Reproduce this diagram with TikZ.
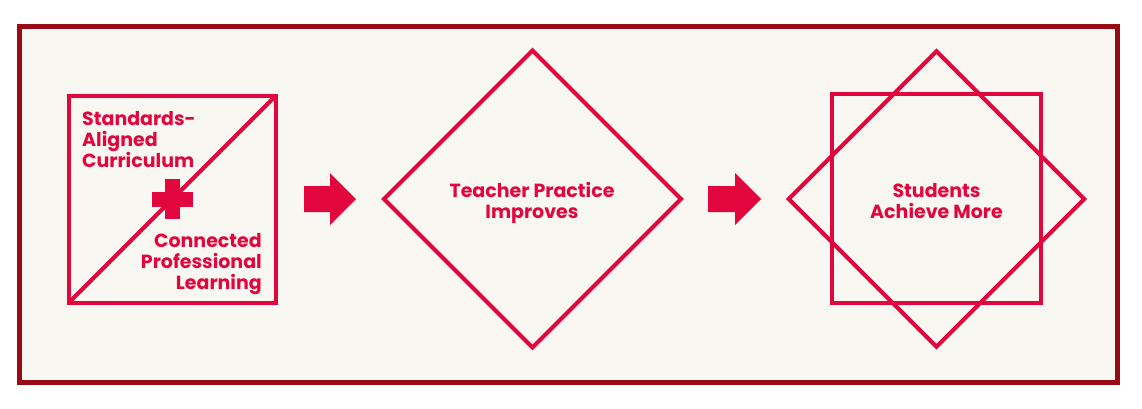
\documentclass[tikz,border=0pt]{standalone}
\usepackage{fontspec}
\setmainfont{Poppins}
\usetikzlibrary{shapes.geometric}
\definecolor{rosered}{HTML}{E2063E}
\definecolor{framered}{HTML}{9A0A12}
\definecolor{paper}{HTML}{F8F7F1}
\begin{document}
\begin{tikzpicture}[x=1pt,y=-1pt,
  outline/.style={draw=rosered, line width=4pt, minimum size=207pt, inner sep=0pt, outer sep=0pt},
  lbl/.style={text=rosered, font=\bfseries\fontsize{19}{21.5}\selectfont, inner sep=0pt},
  blockarrow/.style={fill=rosered, draw=none}]
\useasboundingbox (0,0) rectangle (1142,408);
\fill[white] (0,0) rectangle (1142,408);
\draw[framered, line width=5pt, fill=paper] (19.5,26) rectangle (1117.5,382.5);
% left square
\node[outline] (s1) at (172.5,199) {};
\draw[rosered, line width=4pt] (s1.south west) -- (s1.north east);
\node[lbl, anchor=base west] (t1a) at (82,125) {Standards-};
\node[lbl, anchor=base west] (t1b) at (82,146) {Aligned};
\node[lbl, anchor=base west] (t1c) at (82,167) {Curriculum};
\node[lbl, anchor=base east] (t2a) at (262,247) {Connected};
\node[lbl, anchor=base east] (t2b) at (262,268) {Professional};
\node[lbl, anchor=base east] (t2c) at (262,289) {Learning};
\fill[rosered] (165,179) rectangle (180,219);
\fill[rosered] (152,191.5) rectangle (193,206.5);
% arrow 1
\fill[blockarrow] (304,186) -- (330,186) -- (330,173) -- (356,199) -- (330,225) -- (330,212) -- (304,212) -- cycle;
% diamond 1
\node[outline, minimum size=210pt, rotate=45] (d1) at (532.5,199) {};
\node[lbl, anchor=base] (t3a) at (532,197) {Teacher Practice};
\node[lbl, anchor=base] (t3b) at (532,218) {Improves};
% arrow 2
\fill[blockarrow] (708,186) -- (735,186) -- (735,173) -- (761,199) -- (735,225) -- (735,212) -- (708,212) -- cycle;
% star
\node[outline, minimum size=209pt] (s2) at (936.5,198.5) {};
\node[outline, minimum size=209pt, rotate=45] (d2) at (936.5,199) {};
\node[lbl, anchor=base] (t4a) at (936.5,197) {Students};
\node[lbl, anchor=base] (t4b) at (936.5,218) {Achieve More};
\end{tikzpicture}
\end{document}
